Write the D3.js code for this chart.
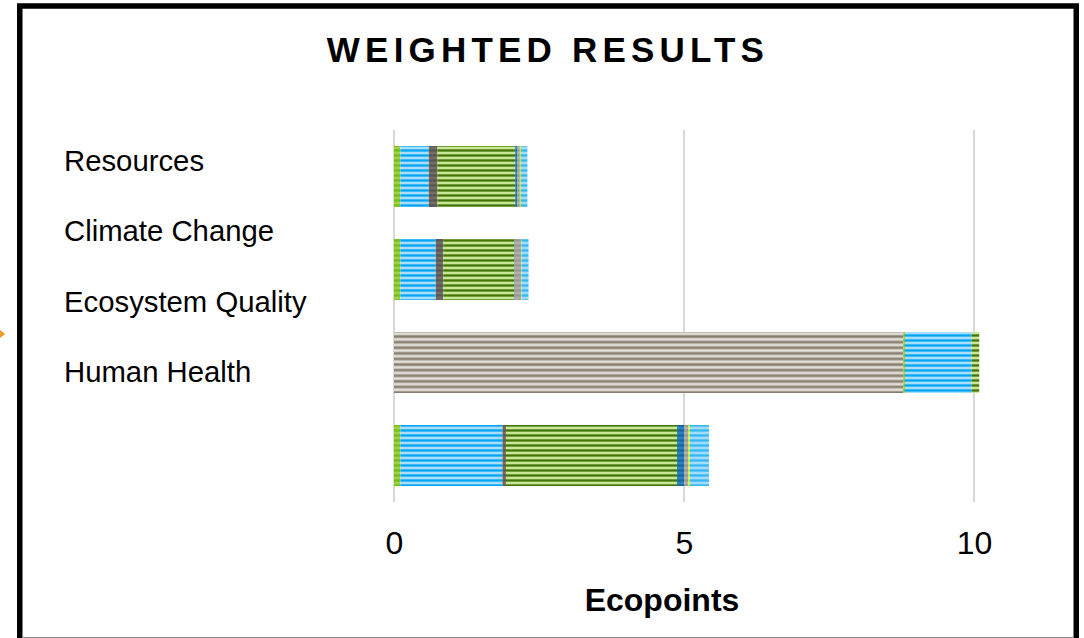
<!DOCTYPE html>
<html>
<head>
<meta charset="utf-8">
<script src="https://cdn.jsdelivr.net/npm/d3@7"></script>
<style>
  html, body { margin: 0; padding: 0; background: #fff; }
  svg { display: block; font-family: "Liberation Sans", Arial, sans-serif; }
</style>
</head>
<body>
<svg id="chart" width="1084" height="638"></svg>
<script>
// Impact categories, top to bottom
const categories = ["Resources", "Climate Change", "Ecosystem Quality", "Human Health"];

// Stacked contributions (Ecopoints), one array per contributor, same order as categories
const contribTaupe     = [0.00, 0.00, 8.78, 0.00];
const contribLime      = [0.11, 0.11, 0.03, 0.11];
const contribBlue      = [0.49, 0.61, 1.15, 1.76];
const contribDarkGrey  = [0.15, 0.13, 0.00, 0.06];
const contribGreen     = [1.34, 1.22, 0.13, 2.95];
const contribDarkBlue  = [0.04, 0.01, 0.00, 0.12];
const contribGrey      = [0.04, 0.11, 0.00, 0.07];
const contribYellow    = [0.02, 0.01, 0.00, 0.03];
const contribLightBlue = [0.11, 0.12, 0.00, 0.33];

const seriesKeys = ["taupe", "lime", "blue", "darkGrey", "green", "darkBlue", "grey", "yellow", "lightBlue"];
const seriesValues = [contribTaupe, contribLime, contribBlue, contribDarkGrey, contribGreen,
                      contribDarkBlue, contribGrey, contribYellow, contribLightBlue];

const xTicks = [0, 5, 10];
const xTitle = "Ecopoints";
const chartTitle = "WEIGHTED RESULTS";

// Stripe colours per contributor: [dark, light]
const stripeColors = {
  taupe:     ["#857d6f", "#e6e2dc"],
  lime:      ["#74bd14", "#9fd246"],
  blue:      ["#02a5f5", "#a8def9"],
  darkGrey:  ["#5a5550", "#736d67"],
  green:     ["#437408", "#c8e896"],
  darkBlue:  ["#16679f", "#2a84bf"],
  grey:      ["#9c9690", "#b4afaa"],
  yellow:    ["#b9ea0a", "#d8fa40"],
  lightBlue: ["#33b8f6", "#a3dcfb"]
};

const table = categories.map((c, i) => {
  const row = { category: c };
  seriesKeys.forEach((k, j) => { row[k] = seriesValues[j][i]; });
  return row;
});

const svg = d3.select("#chart");
const defs = svg.append("defs");

// horizontal stripe pattern for each contributor
seriesKeys.forEach(k => {
  const [dark, light] = stripeColors[k];
  const period = k === "taupe" ? 5.6 : 5;
  const grad = defs.append("linearGradient")
    .attr("id", "g-" + k).attr("x1", 0).attr("y1", 0).attr("x2", 0).attr("y2", 1);
  [[0, dark], [18, dark], [50, light], [70, light], [100, dark]].forEach(([o, c]) =>
    grad.append("stop").attr("offset", o + "%").attr("stop-color", c));
  const pat = defs.append("pattern")
    .attr("id", "p-" + k)
    .attr("patternUnits", "userSpaceOnUse")
    .attr("width", 20).attr("height", period);
  pat.append("rect").attr("width", 20).attr("height", period).attr("fill", "url(#g-" + k + ")");
});

// frame
svg.append("rect")
  .attr("x", 19.75).attr("y", 6).attr("width", 1056.5).attr("height", 660)
  .attr("fill", "none").attr("stroke", "#000").attr("stroke-width", 5.5);
svg.append("line")
  .attr("x1", 22).attr("x2", 1073).attr("y1", 637.5).attr("y2", 637.5)
  .attr("stroke", "#8a8a8a").attr("stroke-width", 1);

// arrow tip peeking in at the left edge
svg.append("path")
  .attr("d", "M-10,322 L5,334 L-10,346 Z")
  .attr("fill", "#f29a1e");

// title
svg.append("text")
  .attr("x", 548).attr("y", 62)
  .attr("text-anchor", "middle")
  .attr("font-size", 35).attr("font-weight", "bold")
  .attr("letter-spacing", 5.2)
  .text(chartTitle);

// scales
const x = d3.scaleLinear().domain([0, 10]).range([394, 974]);
const y = d3.scaleBand().domain(categories).range([130, 502]).paddingInner(0.344).paddingOuter(0.172);

// gridlines
svg.append("g").selectAll("line")
  .data(xTicks).join("line")
  .attr("x1", d => x(d)).attr("x2", d => x(d))
  .attr("y1", 130).attr("y2", 502)
  .attr("stroke", "#d9d9d9").attr("stroke-width", 2);

// stacked bars
const stack = d3.stack().keys(seriesKeys);
const layers = stack(table);
svg.append("g").selectAll("g")
  .data(layers).join("g")
  .attr("fill", d => "url(#p-" + d.key + ")")
  .selectAll("rect")
  .data(d => d).join("rect")
  .attr("x", d => x(d[0]))
  .attr("y", d => y(d.data.category))
  .attr("width", d => Math.max(0, x(d[1]) - x(d[0])))
  .attr("height", y.bandwidth());

// x axis tick labels
const xAxis = d3.axisBottom(x).tickValues(xTicks).tickSize(0).tickPadding(0).tickFormat(d3.format("d"));
const gx = svg.append("g").attr("transform", "translate(0,531)").call(xAxis);
gx.select(".domain").remove();
gx.selectAll("text")
  .attr("font-family", "Liberation Sans, Arial, sans-serif")
  .attr("font-size", 32).attr("fill", "#000").attr("dy", "0.71em");

// x title
svg.append("text")
  .attr("x", 662).attr("y", 611)
  .attr("text-anchor", "middle")
  .attr("font-size", 32).attr("font-weight", "bold")
  .text(xTitle);

// category labels listed on the left
const labelY = d3.scalePoint().domain(categories).range([171, 382]);
svg.append("g").selectAll("text")
  .data(categories).join("text")
  .attr("x", 64).attr("y", d => labelY(d))
  .attr("font-size", 29.3)
  .text(d => d);
</script>
</body>
</html>
